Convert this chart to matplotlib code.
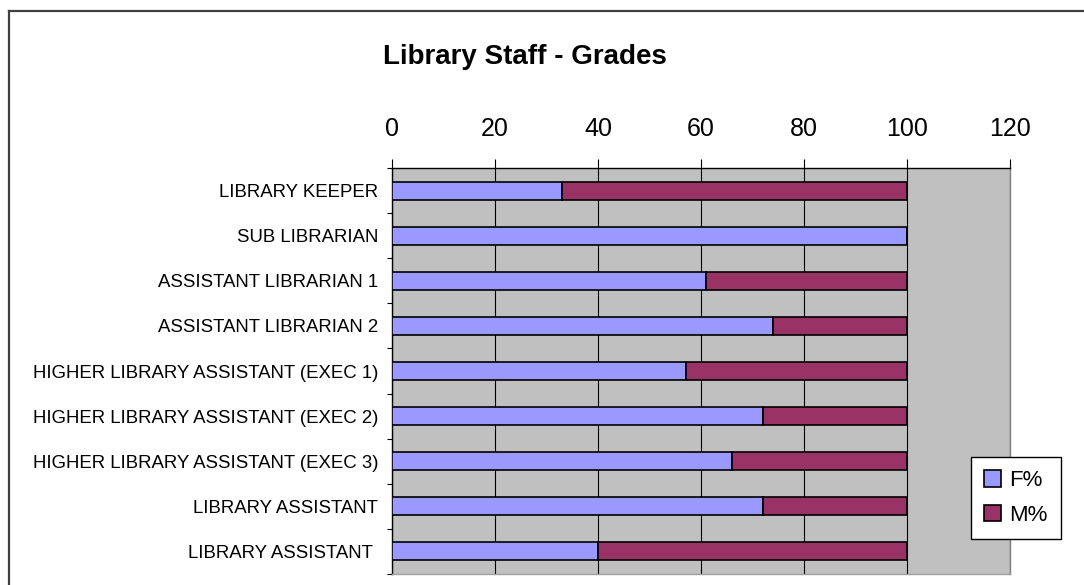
import matplotlib
matplotlib.use('Agg')
import matplotlib.pyplot as plt
from matplotlib.lines import Line2D
import numpy as np

plt.rcParams['font.family'] = ['Liberation Sans', 'DejaVu Sans']

# data
grades = ['LIBRARY KEEPER', 'SUB LIBRARIAN', 'ASSISTANT LIBRARIAN 1', 'ASSISTANT LIBRARIAN 2',
          'HIGHER LIBRARY ASSISTANT (EXEC 1)', 'HIGHER LIBRARY ASSISTANT (EXEC 2)',
          'HIGHER LIBRARY ASSISTANT (EXEC 3)', 'LIBRARY ASSISTANT', 'LIBRARY ASSISTANT ']
f_pct = [33, 100, 61, 74, 57, 72, 66, 72, 40]
m_pct = [67, 0, 39, 26, 43, 28, 34, 28, 60]
x_ticks = [0, 20, 40, 60, 80, 100, 120]

fig = plt.figure(figsize=(10.84, 5.85), dpi=100)
ax = fig.add_axes([392/1084, 1 - 574/585, (1010 - 392)/1084, (574 - 168)/585])
ax.set_facecolor('#C0C0C0')

y = np.arange(len(grades))
ax.barh(y, f_pct, height=0.4, color='#9999FF', edgecolor='black', linewidth=1.2, label='F%', zorder=3)
ax.barh(y, m_pct, left=f_pct, height=0.4, color='#993366', edgecolor='black', linewidth=1.2, label='M%', zorder=3)

ax.set_xlim(0, 120)
ax.set_ylim(len(grades) - 0.5, -0.5)
ax.set_xticks(x_ticks)
ax.xaxis.tick_top()
ax.tick_params(axis='x', direction='out', length=6.5, width=0.8, pad=13, labelsize=18)
ax.grid(axis='x', color='black', linewidth=0.8, zorder=1)

ax.set_yticks(y)
ax.set_yticklabels(grades)
ax.set_yticks(np.arange(len(grades) + 1) - 0.5, minor=True)
ax.tick_params(axis='y', which='major', length=0, pad=10, labelsize=13.4)
ax.tick_params(axis='y', which='minor', length=3.6, width=0.8, direction='out')

ax.spines['left'].set_color('black')
ax.spines['top'].set_color('black')
ax.spines['right'].set_color('#808080')
ax.spines['bottom'].set_color('#A0A0A0')
for s in ax.spines.values():
    s.set_linewidth(1)

fig.text(525/1084, 1 - 57/585, 'Library Staff - Grades', fontsize=20, fontweight='bold',
         ha='center', va='center')

leg = fig.legend(loc='center', bbox_to_anchor=(1016/1084, 1 - 498/585), fontsize=16,
                 fancybox=False, framealpha=1, edgecolor='black', handlelength=0.75,
                 handleheight=0.75, handletextpad=0.4, labelspacing=0.6, borderpad=0.6)
leg.get_frame().set_linewidth(1)

# outer chart frame (cut off at the right and bottom)
fig.add_artist(Line2D([8.7/1084, 1], [1 - 10.7/585, 1 - 10.7/585], color='#404040', linewidth=1.6,
                      transform=fig.transFigure))
fig.add_artist(Line2D([8.7/1084, 8.7/1084], [0, 1 - 10.7/585], color='#404040', linewidth=1.6,
                      transform=fig.transFigure))

fig.savefig('out.png', dpi=100)
